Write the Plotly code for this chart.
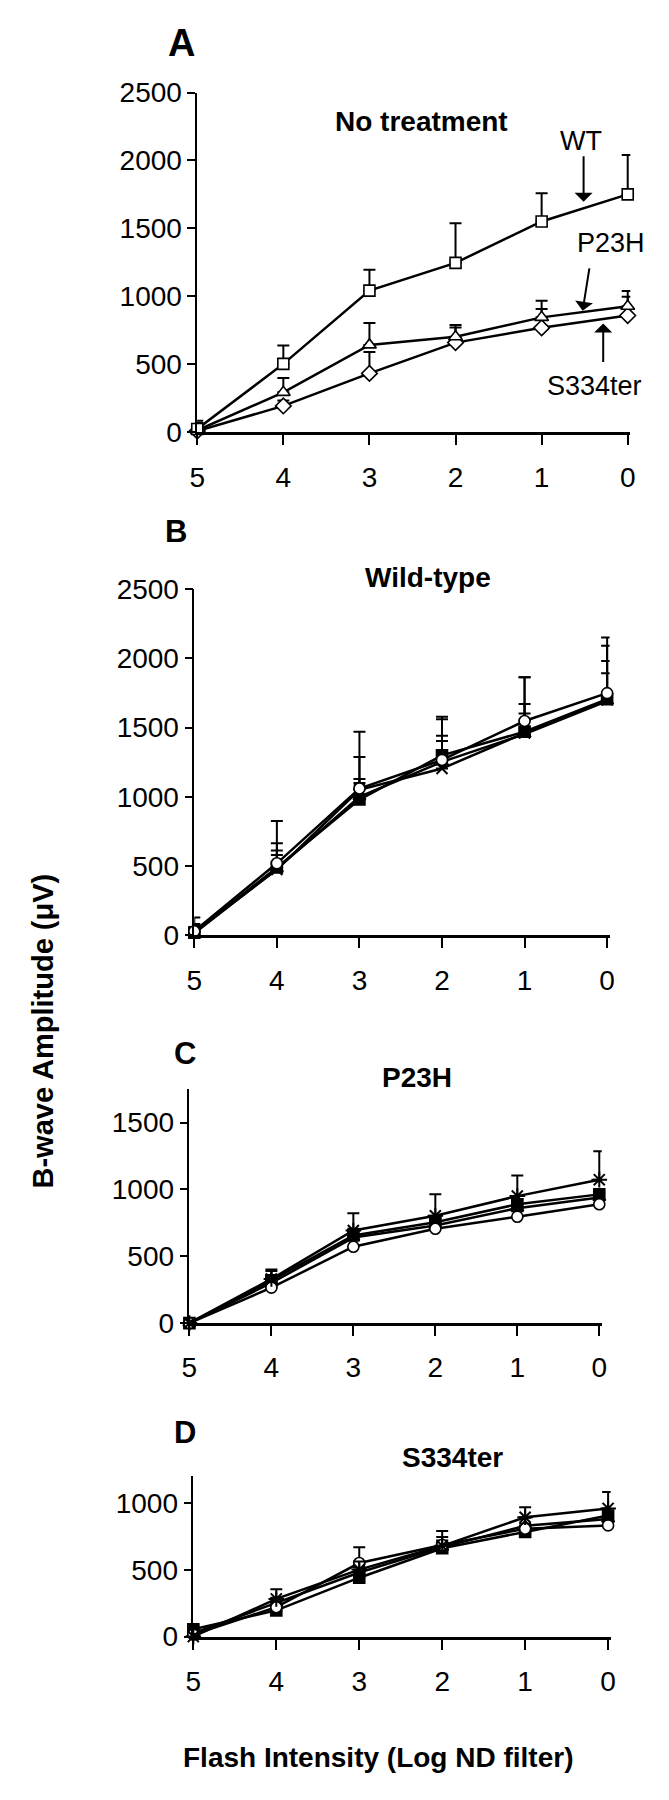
import plotly.graph_objects as go

# ---------------- data ----------------
x_vals = [5, 4, 3, 2, 1, 0]
x_ticktext = ["5", "4", "3", "2", "1", "0"]

# Panel A: No treatment
a_wt = [20, 500, 1040, 1245, 1550, 1750]
a_wt_err = [60, 135, 155, 292, 208, 290]
a_p23h = [10, 290, 640, 700, 843, 925]
a_p23h_err = [50, 106, 162, 87, 122, 113]
a_s334 = [5, 190, 430, 657, 766, 857]
a_s334_err = [60, 40, 157, 111, 138, 138]

# Panel B: Wild-type
b_circle = [30, 520, 1060, 1266, 1547, 1748]
b_circle_err = [99, 306, 409, 293, 315, 402]
b_square = [20, 490, 980, 1299, 1470, 1705]
b_square_err = [62, 175, 149, 279, 392, 385]
b_tri = [15, 480, 1000, 1252, 1452, 1691]
b_tri_err = [40, 100, 100, 150, 150, 200]
b_x = [25, 475, 1050, 1204, 1460, 1700]
b_x_err = [50, 138, 237, 237, 210, 280]

# Panel C: P23H
c_circle = [0, 265, 571, 706, 796, 889]
c_circle_err = [10, 40, 60, 40, 40, 40]
c_square = [0, 320, 656, 755, 889, 963]
c_square_err = [20, 80, 50, 30, 40, 40]
c_tri = [0, 300, 640, 730, 860, 940]
c_tri_err = [10, 50, 40, 30, 30, 30]
c_x = [0, 330, 693, 803, 950, 1073]
c_x_err = [10, 60, 128, 160, 155, 213]

# Panel D: S334ter
d_circle = [15, 220, 551, 686, 808, 833]
d_circle_err = [30, 40, 118, 60, 40, 40]
d_square = [55, 196, 441, 662, 784, 907]
d_square_err = [23, 40, 80, 40, 40, 40]
d_tri = [25, 250, 480, 670, 830, 880]
d_tri_err = [20, 40, 60, 50, 60, 50]
d_x = [0, 282, 502, 680, 894, 960]
d_x_err = [20, 73, 60, 111, 74, 123]

y_ticks_a = [0, 500, 1000, 1500, 2000, 2500]
y_ticks_b = [0, 500, 1000, 1500, 2000, 2500]
y_ticks_c = [0, 500, 1000, 1500]
y_ticks_d = [0, 500, 1000]

# ---------------- layout helpers ----------------
W, H = 669, 1800
FONT = "Arial, Liberation Sans, sans-serif"


def fx(p):
    return p / W


def fy(p):
    return 1 - p / H


fig = go.Figure()


def add_series(n, y, err, symbol, fill, size=10, lw=1.6):
    suffix = "" if n == 1 else str(n)
    fig.add_trace(go.Scatter(
        x=x_vals, y=y, mode="lines+markers",
        xaxis="x" + suffix, yaxis="y" + suffix,
        line=dict(color="black", width=2.5),
        marker=dict(symbol=symbol, size=size, color=fill,
                    line=dict(color="black", width=lw)),
        error_y=dict(type="data", symmetric=False, array=err,
                     arrayminus=[0] * len(err), color="black",
                     thickness=2, width=6),
        cliponaxis=False, showlegend=False,
    ))


# Panel A
add_series(1, a_s334, a_s334_err, "diamond", "white", size=12)
add_series(1, a_p23h, a_p23h_err, "triangle-up", "white", size=12)
add_series(1, a_wt, a_wt_err, "square", "white", size=11)

# Panel B
add_series(2, b_tri, b_tri_err, "triangle-up", "black", size=11)
add_series(2, b_x, b_x_err, "x-thin-open", "black", size=11, lw=2)
add_series(2, b_square, b_square_err, "square", "black", size=11)
add_series(2, b_circle, b_circle_err, "circle", "white", size=11)

# Panel C
add_series(3, c_tri, c_tri_err, "triangle-up", "black", size=11)
add_series(3, c_square, c_square_err, "square", "black", size=11)
add_series(3, c_circle, c_circle_err, "circle", "white", size=11)
add_series(3, c_x, c_x_err, "asterisk-open", "black", size=13, lw=2)

# Panel D
add_series(4, d_tri, d_tri_err, "triangle-up", "black", size=11)
add_series(4, d_square, d_square_err, "square", "black", size=11)
add_series(4, d_circle, d_circle_err, "circle", "white", size=11)
add_series(4, d_x, d_x_err, "asterisk-open", "black", size=13, lw=2)

# panel geometry (pixels): x of value 5, x of value 0, y of top value, y of 0
panels = [
    dict(x5=193, x0=632, ytop=79, y0=424, ymax=2500, yt=y_ticks_a, standoff=9),
    dict(x5=190, x0=611, ytop=584, y0=936.5, ymax=2500, yt=y_ticks_b, standoff=8),
    dict(x5=185, x0=603, ytop=1093, y0=1331, ymax=1750, yt=y_ticks_c, standoff=7),
    dict(x5=189, x0=612, ytop=1487, y0=1650, ymax=1200, yt=y_ticks_d, standoff=8),
]

layout = dict(
    width=W, height=H, margin=dict(l=0, r=0, t=0, b=0),
    paper_bgcolor="white", plot_bgcolor="white",
    font=dict(family=FONT, color="black"),
    showlegend=False,
)

over = 0.03
for i, p in enumerate(panels):
    n = i + 1
    s = "" if n == 1 else str(n)
    unit = (p["x0"] - p["x5"]) / 5.0
    layout["xaxis" + s] = dict(
        domain=[fx(p["x5"]), fx(p["x0"] + over * unit)],
        range=[5, -over], anchor="y" + s,
        tickvals=x_vals, ticktext=x_ticktext,
        ticks="outside", ticklen=10, tickwidth=2, tickcolor="black",
        showline=True, linewidth=3, linecolor="black",
        showgrid=False, zeroline=False,
        tickfont=dict(family=FONT, size=28, color="black"),
        ticklabelstandoff=p["standoff"],
    )
    layout["yaxis" + s] = dict(
        domain=[fy(p["y0"]), fy(p["ytop"])],
        range=[0, p["ymax"]], anchor="x" + s,
        tickvals=p["yt"], ticktext=[str(v) for v in p["yt"]],
        ticks="outside", ticklen=8, tickwidth=1.5, tickcolor="black",
        showline=True, linewidth=1.5, linecolor="black",
        showgrid=False, zeroline=False,
        tickfont=dict(family=FONT, size=28, color="black"),
    )

annotations = []


def text(t, x, y, size, bold=False, angle=0):
    annotations.append(dict(
        text=("<b>%s</b>" % t) if bold else t,
        x=fx(x), y=fy(y), xref="paper", yref="paper",
        xanchor="center", yanchor="middle", showarrow=False,
        textangle=angle,
        font=dict(family=FONT, size=size, color="black"),
    ))


def arrow(tail, tip):
    annotations.append(dict(
        text="", x=fx(tip[0]), y=fy(tip[1]), xref="paper", yref="paper",
        ax=tail[0] - tip[0], ay=tail[1] - tip[1], axref="pixel", ayref="pixel",
        showarrow=True, arrowhead=1, arrowsize=1.5, arrowwidth=2,
        arrowcolor="black",
    ))


text("A", 177, 28, 38, bold=True)
text("B", 171, 526, 31, bold=True)
text("C", 180, 1057, 31, bold=True)
text("D", 181, 1442, 31, bold=True)

text("No treatment", 422, 108, 28, bold=True)
text("Wild-type", 428, 572, 28, bold=True)
text("P23H", 417, 1081, 28, bold=True)
text("S334ter", 453, 1468, 28, bold=True)

text("WT", 584, 128, 27)
text("P23H", 615, 232, 27)
text("S334ter", 598, 377, 27)
arrow((587, 143), (587, 190))
arrow((593, 257), (586, 301))
arrow((607, 354), (607, 314))

text("B-wave Amplitude (μV)", 36, 1034, 29, bold=True, angle=-90)
text("Flash Intensity (Log ND filter)", 377, 1773, 28, bold=True)

layout["annotations"] = annotations
fig.update_layout(**layout)

fig.write_html("out.html", config={"displayModeBar": False},
               post_script="document.body.style.margin='0px';")
